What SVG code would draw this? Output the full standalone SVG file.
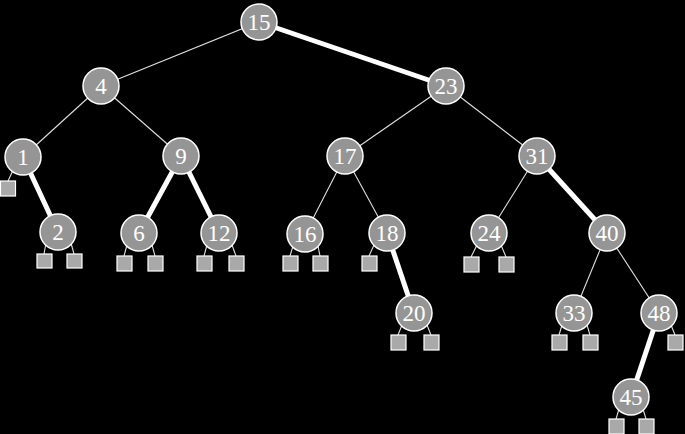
<svg xmlns="http://www.w3.org/2000/svg" width="685" height="434" viewBox="0 0 685 434">
<style>
.e{stroke:#e0e0e0;stroke-width:1.1;fill:none}
.t{stroke:#ffffff;stroke-width:5;fill:none}
.n circle{fill:#959595;stroke:#ffffff;stroke-width:1.5}
.n text{fill:#ffffff;font-family:"Liberation Serif","DejaVu Serif",serif;font-size:23px;text-anchor:middle;dominant-baseline:central}
.l{fill:#a9a9a9;stroke:#ffffff;stroke-width:1.2}
</style>
<rect width="685" height="434" fill="#000000"/>
<g id="connectors">
<line class="e" x1="259" y1="22" x2="101" y2="86"/>
<line class="t" x1="259" y1="22" x2="446" y2="86"/>
<line class="e" x1="101" y1="86" x2="23" y2="157"/>
<line class="e" x1="101" y1="86" x2="181" y2="156"/>
<line class="e" x1="446" y1="86" x2="345" y2="156"/>
<line class="e" x1="446" y1="86" x2="537" y2="156"/>
<line class="t" x1="23" y1="157" x2="58" y2="232"/>
<line class="t" x1="181" y1="156" x2="139" y2="233"/>
<line class="t" x1="181" y1="156" x2="219" y2="233"/>
<line class="e" x1="345" y1="156" x2="305" y2="234"/>
<line class="e" x1="345" y1="156" x2="387" y2="233"/>
<line class="e" x1="537" y1="156" x2="489" y2="233"/>
<line class="t" x1="537" y1="156" x2="607" y2="233"/>
<line class="t" x1="387" y1="233" x2="414" y2="313"/>
<line class="e" x1="607" y1="233" x2="574" y2="313"/>
<line class="e" x1="607" y1="233" x2="659" y2="313"/>
<line class="t" x1="659" y1="313" x2="631" y2="397"/>
<line class="e" x1="15" y1="166" x2="8" y2="181"/>
<line class="e" x1="46" y1="243" x2="44" y2="254"/>
<line class="e" x1="71" y1="243" x2="74" y2="254"/>
<line class="e" x1="127" y1="245" x2="124" y2="256"/>
<line class="e" x1="152" y1="245" x2="155" y2="256"/>
<line class="e" x1="207" y1="245" x2="204" y2="256"/>
<line class="e" x1="232" y1="245" x2="236" y2="256"/>
<line class="e" x1="293" y1="246" x2="290" y2="256"/>
<line class="e" x1="318" y1="246" x2="320" y2="256"/>
<line class="e" x1="374" y1="245" x2="369" y2="256"/>
<line class="e" x1="477" y1="245" x2="471" y2="257"/>
<line class="e" x1="501" y1="245" x2="506" y2="257"/>
<line class="e" x1="402" y1="325" x2="398" y2="335"/>
<line class="e" x1="427" y1="325" x2="431" y2="335"/>
<line class="e" x1="562" y1="325" x2="559" y2="335"/>
<line class="e" x1="587" y1="325" x2="590" y2="335"/>
<line class="e" x1="671" y1="325" x2="675" y2="335"/>
<line class="e" x1="619" y1="409" x2="616" y2="419"/>
<line class="e" x1="643" y1="409" x2="646" y2="419"/>
</g>
<g id="leaves">
<rect class="l" x="0.5" y="181" width="15" height="15"/>
<rect class="l" x="37" y="254" width="15" height="14"/>
<rect class="l" x="67" y="254" width="15" height="14"/>
<rect class="l" x="117" y="256" width="15" height="15"/>
<rect class="l" x="148" y="256" width="15" height="15"/>
<rect class="l" x="197" y="256" width="15" height="15"/>
<rect class="l" x="229" y="256" width="15" height="15"/>
<rect class="l" x="283" y="256" width="15" height="15"/>
<rect class="l" x="313" y="256" width="15" height="15"/>
<rect class="l" x="362" y="256" width="15" height="15"/>
<rect class="l" x="464" y="257" width="15" height="15"/>
<rect class="l" x="499" y="257" width="15" height="15"/>
<rect class="l" x="391" y="335" width="15" height="15"/>
<rect class="l" x="424" y="335" width="15" height="15"/>
<rect class="l" x="552" y="335" width="15" height="15"/>
<rect class="l" x="583" y="335" width="15" height="15"/>
<rect class="l" x="668" y="335" width="15" height="15"/>
<rect class="l" x="609" y="419" width="15" height="15"/>
<rect class="l" x="639" y="419" width="15" height="15"/>
</g>
<g id="n15" class="n"><circle cx="259" cy="22" r="18"/><text x="259" y="22">15</text></g>
<g id="n4" class="n"><circle cx="101" cy="86" r="18"/><text x="101" y="86">4</text></g>
<g id="n23" class="n"><circle cx="446" cy="86" r="18"/><text x="446" y="86">23</text></g>
<g id="n1" class="n"><circle cx="23" cy="157" r="18"/><text x="23" y="157">1</text></g>
<g id="n9" class="n"><circle cx="181" cy="156" r="18"/><text x="181" y="156">9</text></g>
<g id="n17" class="n"><circle cx="345" cy="156" r="18"/><text x="345" y="156">17</text></g>
<g id="n31" class="n"><circle cx="537" cy="156" r="18"/><text x="537" y="156">31</text></g>
<g id="n2" class="n"><circle cx="58" cy="232" r="18"/><text x="58" y="232">2</text></g>
<g id="n6" class="n"><circle cx="139" cy="233" r="18"/><text x="139" y="233">6</text></g>
<g id="n12" class="n"><circle cx="219" cy="233" r="18"/><text x="219" y="233">12</text></g>
<g id="n16" class="n"><circle cx="305" cy="234" r="18"/><text x="305" y="234">16</text></g>
<g id="n18" class="n"><circle cx="387" cy="233" r="18"/><text x="387" y="233">18</text></g>
<g id="n24" class="n"><circle cx="489" cy="233" r="18"/><text x="489" y="233">24</text></g>
<g id="n40" class="n"><circle cx="607" cy="233" r="18"/><text x="607" y="233">40</text></g>
<g id="n20" class="n"><circle cx="414" cy="313" r="18"/><text x="414" y="313">20</text></g>
<g id="n33" class="n"><circle cx="574" cy="313" r="18"/><text x="574" y="313">33</text></g>
<g id="n48" class="n"><circle cx="659" cy="313" r="18"/><text x="659" y="313">48</text></g>
<g id="n45" class="n"><circle cx="631" cy="397" r="18"/><text x="631" y="397">45</text></g>
</svg>
